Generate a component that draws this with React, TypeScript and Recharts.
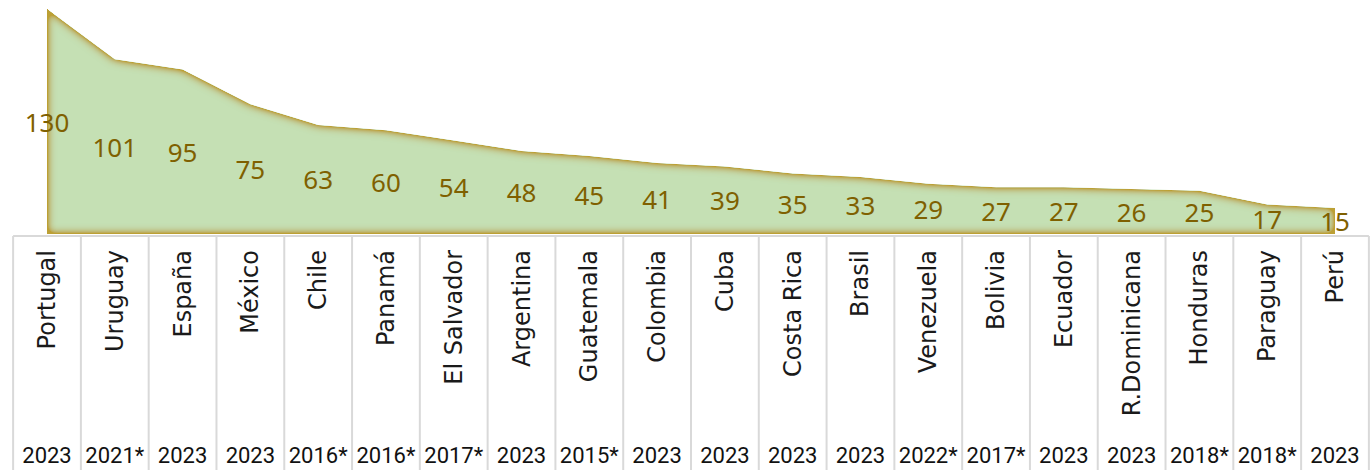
import React from 'react';
import { AreaChart, Area, XAxis, YAxis, LabelList } from 'recharts';

const countries = [
  'Portugal', 'Uruguay', 'España', 'México', 'Chile', 'Panamá', 'El Salvador',
  'Argentina', 'Guatemala', 'Colombia', 'Cuba', 'Costa Rica', 'Brasil',
  'Venezuela', 'Bolivia', 'Ecuador', 'R.Dominicana', 'Honduras', 'Paraguay', 'Perú',
];
const rates = [130, 101, 95, 75, 63, 60, 54, 48, 45, 41, 39, 35, 33, 29, 27, 27, 26, 25, 17, 15];
const years = [
  '2023', '2021*', '2023', '2023', '2016*', '2016*', '2017*', '2023', '2015*', '2023',
  '2023', '2023', '2023', '2022*', '2017*', '2023', '2023', '2018*', '2018*', '2023',
];

const data = countries.map((name, i) => ({ name, value: rates[i], year: years[i] }));

// layout
const W = 1372;
const H = 470;
const AXIS_H = 236;
const M = { top: 9, right: 37, bottom: 0, left: 47 };
const BASE = H - AXIS_H; // plot bottom
const STEP = (W - M.left - M.right) / (countries.length - 1);
const TABLE_TOP = BASE + 2;

const CellTick = (props: any) => {
  const { x, index, payload } = props;
  const left = x - STEP / 2;
  const last = index === countries.length - 1;
  return (
    <g>
      {index === 0 && (
        <line x1={left} x2={left + STEP * countries.length} y1={TABLE_TOP} y2={TABLE_TOP} stroke="#d9d9d9" strokeWidth={2} />
      )}
      <line x1={left} x2={left} y1={TABLE_TOP} y2={H} stroke="#d9d9d9" strokeWidth={2} />
      {last && <line x1={left + STEP} x2={left + STEP} y1={TABLE_TOP} y2={H} stroke="#d9d9d9" strokeWidth={2} />}
      <text
        x={0}
        y={0}
        transform={`translate(${x + 8},${TABLE_TOP + 14}) rotate(-90)`}
        textAnchor="end"
        fontFamily="'DejaVu Sans', sans-serif"
        fontSize={24}
        fill="#1a1a1a"
      >
        {payload.value}
      </text>
      <text x={x} y={H - 7} textAnchor="middle" fontFamily="Roboto, sans-serif" fontSize={22} fill="#111">
        {years[index]}
      </text>
    </g>
  );
};

const MidLabel = (props: any) => {
  const { x, y, value } = props;
  return (
    <text
      x={x}
      y={(y + BASE) / 2}
      textAnchor="middle"
      dominantBaseline="central"
      fontFamily="'Noto Sans', sans-serif"
      fontSize={26}
      fill="#7f6000"
    >
      {value}
    </text>
  );
};

export default function App() {
  return (
    <div style={{ position: 'absolute', left: 0, top: 0, width: W, height: H, background: '#fff' }}>
      <style>{`.recharts-area-area{filter:url(#innerGlow)}`}</style>
      <svg width={0} height={0} style={{ position: 'absolute' }}>
        <defs>
          <filter id="innerGlow" x="-5%" y="-10%" width="110%" height="120%">
            <feGaussianBlur in="SourceAlpha" stdDeviation="5" result="blur" />
            <feComposite in="SourceAlpha" in2="blur" operator="arithmetic" k2="2.2" k3="-2.2" result="edge" />
            <feFlood floodColor="#bca034" result="gold" />
            <feComposite in="gold" in2="edge" operator="in" result="glow" />
            <feMerge>
              <feMergeNode in="SourceGraphic" />
              <feMergeNode in="glow" />
            </feMerge>
          </filter>
        </defs>
      </svg>
      <AreaChart width={W} height={H} data={data} margin={M}>
        <XAxis
          dataKey="name"
          interval={0}
          height={AXIS_H}
          axisLine={false}
          tickLine={false}
          tick={<CellTick />}
        />
        <YAxis hide domain={[0, 130]} />
        <Area
          type="linear"
          dataKey="value"
          stroke="none"
          fill="#c5e0b4"
          fillOpacity={1}
          isAnimationActive={false}
        >
          <LabelList dataKey="value" content={<MidLabel />} />
        </Area>
      </AreaChart>
    </div>
  );
}
